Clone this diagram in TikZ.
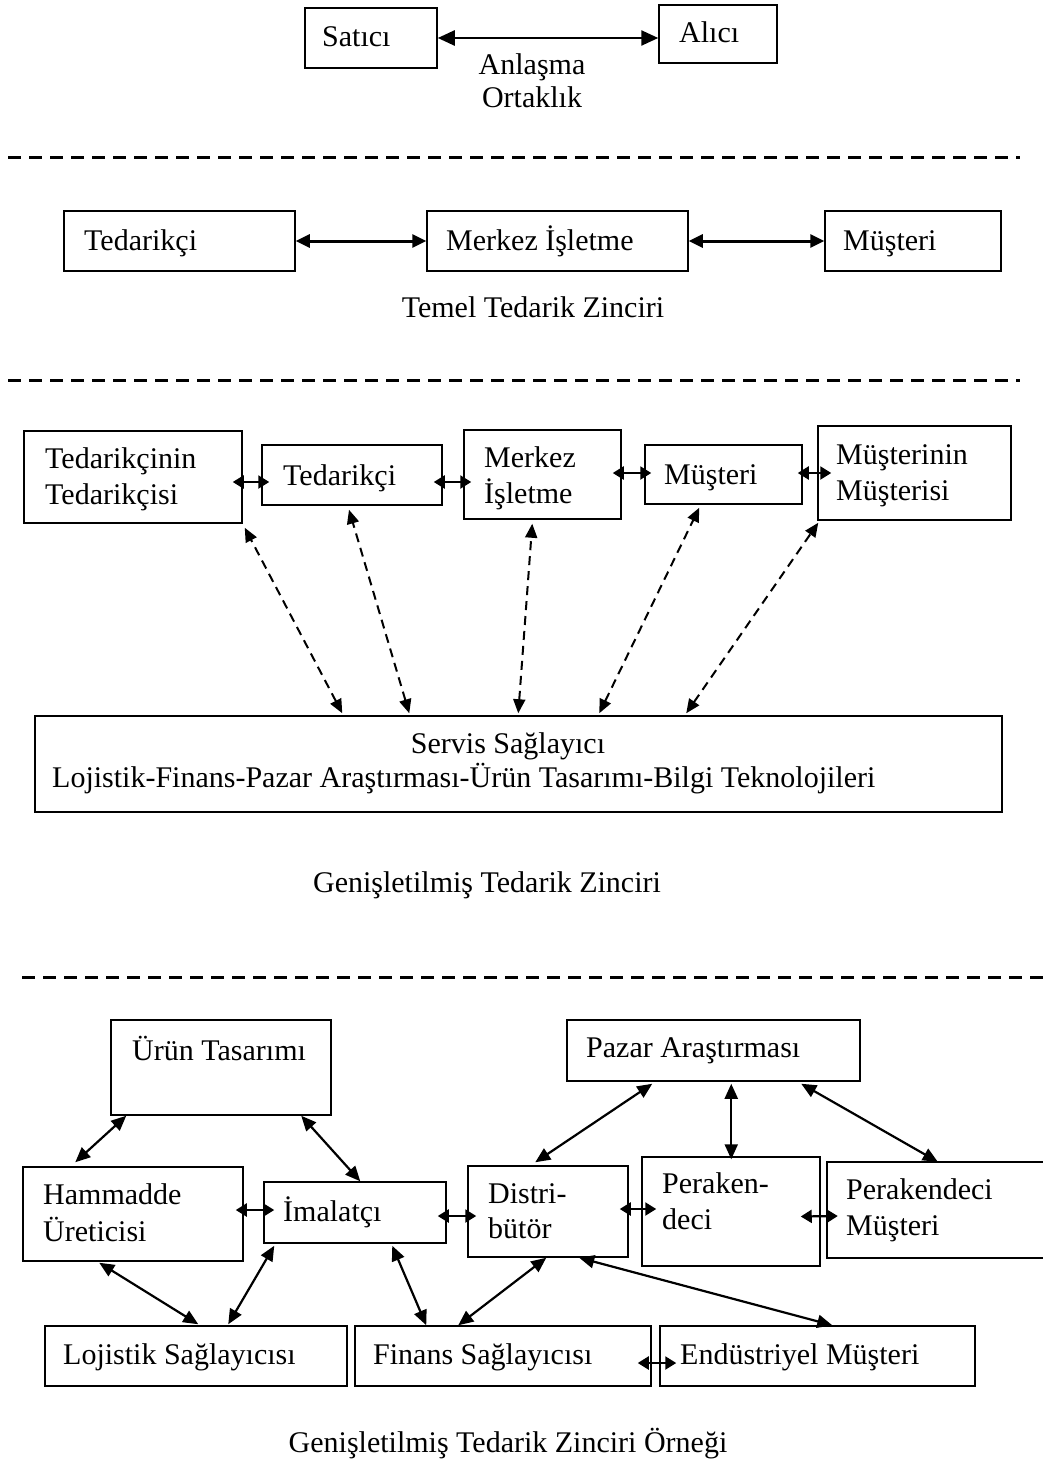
\documentclass[tikz,border=0pt]{standalone}
\usepackage{fontspec}
\setmainfont{Liberation Serif}
\usetikzlibrary{arrows.meta,calc}
\begin{document}
\begin{tikzpicture}[x=1pt,y=-1pt,
 box/.style={draw,line width=1.5pt,inner sep=0pt},
 txt/.style={inner sep=0pt,anchor=base west,font=\fontsize{30}{36}\selectfont},
 ctxt/.style={inner sep=0pt,anchor=base,font=\fontsize{30}{36}\selectfont},
 sepline/.style={line width=3pt,dash pattern=on 13pt off 8pt},
 bigarr/.style={line width=2.5pt,{Triangle[length=17pt,width=15pt]}-{Triangle[length=17pt,width=15pt]}},
 arrtwo/.style={line width=3pt,{Triangle[length=14pt,width=13pt]}-{Triangle[length=14pt,width=13pt]}},
 arr/.style={line width=2.2pt,{Triangle[length=15pt,width=13pt]}-{Triangle[length=15pt,width=13pt]}},
 sarr/.style={line width=2.2pt,{Triangle[length=11pt,width=13pt]}-{Triangle[length=11pt,width=13pt]}},
 darr/.style={line width=2pt,dash pattern=on 9pt off 6pt,{Triangle[length=14pt,width=12pt]}-{Triangle[length=14pt,width=12pt]}},
]
\useasboundingbox[fill=white] (0,0) rectangle (1043,1461);

% ---------- Section 1
\node[box,minimum width=132pt,minimum height=60pt] (sat) at (371,38) {};
\node[box,minimum width=118pt,minimum height=58pt] (alc) at (718,34) {};
\node[txt] (satt) at (322,47) {Satıcı};
\node[txt] (alct) at (679,43) {Alıcı};
\draw[bigarr] (sat.east) -- (alc.west |- sat.east);
\node[ctxt] (anl) at (532,75) {Anlaşma};
\node[ctxt] (ort) at (532,108) {Ortaklık};

\draw[sepline] (8,157) -- (1020,157);

% ---------- Section 2
\node[box,minimum width=231pt,minimum height=60pt] (t2) at (179.5,241) {};
\node[box,minimum width=261pt,minimum height=60pt] (m2) at (557.5,241) {};
\node[box,minimum width=176pt,minimum height=60pt] (k2) at (913,241) {};
\node[txt] (t2t) at (84,250) {Tedarikçi};
\node[txt] (m2t) at (446,250) {Merkez İşletme};
\node[txt] (k2t) at (843,250) {Müşteri};
\draw[arrtwo] (t2.east) -- (m2.west);
\draw[arrtwo] (m2.east) -- (k2.west);
\node[ctxt] (temel) at (533,317) {Temel Tedarik Zinciri};

\draw[sepline] (8,380) -- (1020,380);

% ---------- Section 3
\node[box,minimum width=218pt,minimum height=92pt] (tt) at (133,477) {};
\node[box,minimum width=180pt,minimum height=60pt] (t3) at (352,475) {};
\node[box,minimum width=157pt,minimum height=89pt] (m3) at (542.5,474.5) {};
\node[box,minimum width=157pt,minimum height=59pt] (k3) at (723.5,474.5) {};
\node[box,minimum width=193pt,minimum height=94pt] (kk) at (914.5,473) {};
\node[box,minimum width=967pt,minimum height=96pt] (srv) at (518.5,764) {};

\node[txt] (tta) at (45,468) {Tedarikçinin};
\node[txt] (ttb) at (45,504) {Tedarikçisi};
\node[txt] (t3t) at (283,485) {Tedarikçi};
\node[txt] (m3a) at (484,467) {Merkez};
\node[txt] (m3b) at (484,503) {İşletme};
\node[txt] (k3t) at (664,484) {Müşteri};
\node[txt] (kka) at (836,464) {Müşterinin};
\node[txt] (kkb) at (836,500) {Müşterisi};
\node[ctxt] (srva) at (508,753) {Servis Sağlayıcı};
\node[txt] (srvb) at (52,787) {Lojistik-Finans-Pazar Araştırması-Ürün Tasarımı-Bilgi Teknolojileri};

\draw[sarr] ($(tt.east)+(-10,5)$) -- ($(t3.west)+(8,7)$);
\draw[sarr] ($(t3.east)+(-9,7)$) -- ($(m3.west)+(8,7.5)$);
\draw[sarr] ($(m3.east)+(-9,-1.5)$) -- ($(k3.west)+(7,-1.5)$);
\draw[sarr] ($(k3.east)+(-5,-1.5)$) -- ($(kk.west)+(14,0)$);

\draw[darr] ($(srv.north west)+(308,-2)$) -- ($(tt.south east)+(2,4)$);
\draw[darr] ($(srv.north west)+(375,-2)$) -- ($(t3.south)+(-3,4)$);
\draw[darr] ($(srv.north west)+(484,-2)$) -- ($(m3.south west)+(69,4)$);
\draw[darr] ($(srv.north west)+(565,-2)$) -- ($(k3.south west)+(55,3)$);
\draw[darr] ($(srv.north west)+(652,-2)$) -- ($(kk.south west)+(1,2)$);

\node[ctxt] (gen) at (487,892) {Genişletilmiş Tedarik Zinciri};

\draw[sepline] (22,977) -- (1043,977);

% ---------- Section 4
\node[box,minimum width=220pt,minimum height=95pt] (ur) at (221,1067.5) {};
\node[box,minimum width=293pt,minimum height=61pt] (pz) at (713.5,1050.5) {};
\node[box,minimum width=220pt,minimum height=94pt] (ham) at (133,1214) {};
\node[box,minimum width=182pt,minimum height=61pt] (im) at (355,1212.5) {};
\node[box,minimum width=160pt,minimum height=91pt] (ds) at (548,1211.5) {};
\node[box,minimum width=178pt,minimum height=109pt] (pr) at (731,1211.5) {};
\node[inner sep=0pt,minimum width=219pt,minimum height=96pt] (pm) at (936.5,1210) {};
\draw[line width=1.5pt] (pm.north east) -- (pm.north west) -- (pm.south west) -- (pm.south east);
\node[box,minimum width=302pt,minimum height=60pt] (lj) at (196,1356) {};
\node[box,minimum width=296pt,minimum height=60pt] (fn) at (503,1356) {};
\node[box,minimum width=315pt,minimum height=60pt] (en) at (817.5,1356) {};

\node[txt] (urt) at (132,1060) {Ürün Tasarımı};
\node[txt] (pzt) at (586,1057) {Pazar Araştırması};
\node[txt] (hama) at (43,1204) {Hammadde};
\node[txt] (hamb) at (43,1241) {Üreticisi};
\node[txt] (imt) at (283,1221) {İmalatçı};
\node[txt] (dsa) at (488,1203) {Distri-};
\node[txt] (dsb) at (488,1238) {bütör};
\node[txt] (pra) at (662,1193) {Peraken-};
\node[txt] (prb) at (662,1229) {deci};
\node[txt] (pma) at (846,1199) {Perakendeci};
\node[txt] (pmb) at (846,1235) {Müşteri};
\node[txt] (ljt) at (63,1364) {Lojistik Sağlayıcısı};
\node[txt] (fnt) at (373,1364) {Finans Sağlayıcısı};
\node[txt] (ent) at (680,1364) {Endüstriyel Müşteri};

\draw[arr] ($(ur.south west)+(16,0)$) -- ($(ham.north west)+(53,-4)$);
\draw[arr] ($(ur.south west)+(191,0)$) -- ($(im.north west)+(97,0)$);
\draw[sarr] ($(ham.east)+(-8,-4)$) -- ($(im.west)+(11,-2.5)$);
\draw[sarr] ($(im.east)+(-9,3.5)$) -- ($(ds.west)+(9,4.5)$);
\draw[sarr] ($(ds.east)+(-9,-2.5)$) -- ($(pr.west)+(15,-2.5)$);
\draw[sarr] ($(pr.east)+(-20,5)$) -- ($(pm.west)+(11,6)$);
\draw[arr] ($(pz.south west)+(86,2)$) -- ($(ds.north west)+(68,-3)$);
\draw[arr] ($(pz.south west)+(165,2)$) -- ($(pr.north west)+(90,3)$);
\draw[arr] ($(pz.south west)+(235,2)$) -- ($(pm.north west)+(111,0)$);
\draw[arr] ($(ham.south west)+(77,1)$) -- ($(lj.north west)+(154,-1)$);
\draw[arr] ($(im.south west)+(11,2)$) -- ($(lj.north west)+(184,-1)$);
\draw[arr] ($(im.south west)+(129,2)$) -- ($(fn.north west)+(72,0)$);
\draw[arr] ($(ds.south west)+(79,0)$) -- ($(fn.north west)+(104,0)$);
\draw[arr] ($(ds.south west)+(112,0)$) -- ($(en.north west)+(173,0)$);
\draw[sarr] ($(fn.east)+(-14,7)$) -- ($(en.west)+(17,7)$);

\node[ctxt] (gen2) at (508,1452) {Genişletilmiş Tedarik Zinciri Örneği};
\end{tikzpicture}
\end{document}
